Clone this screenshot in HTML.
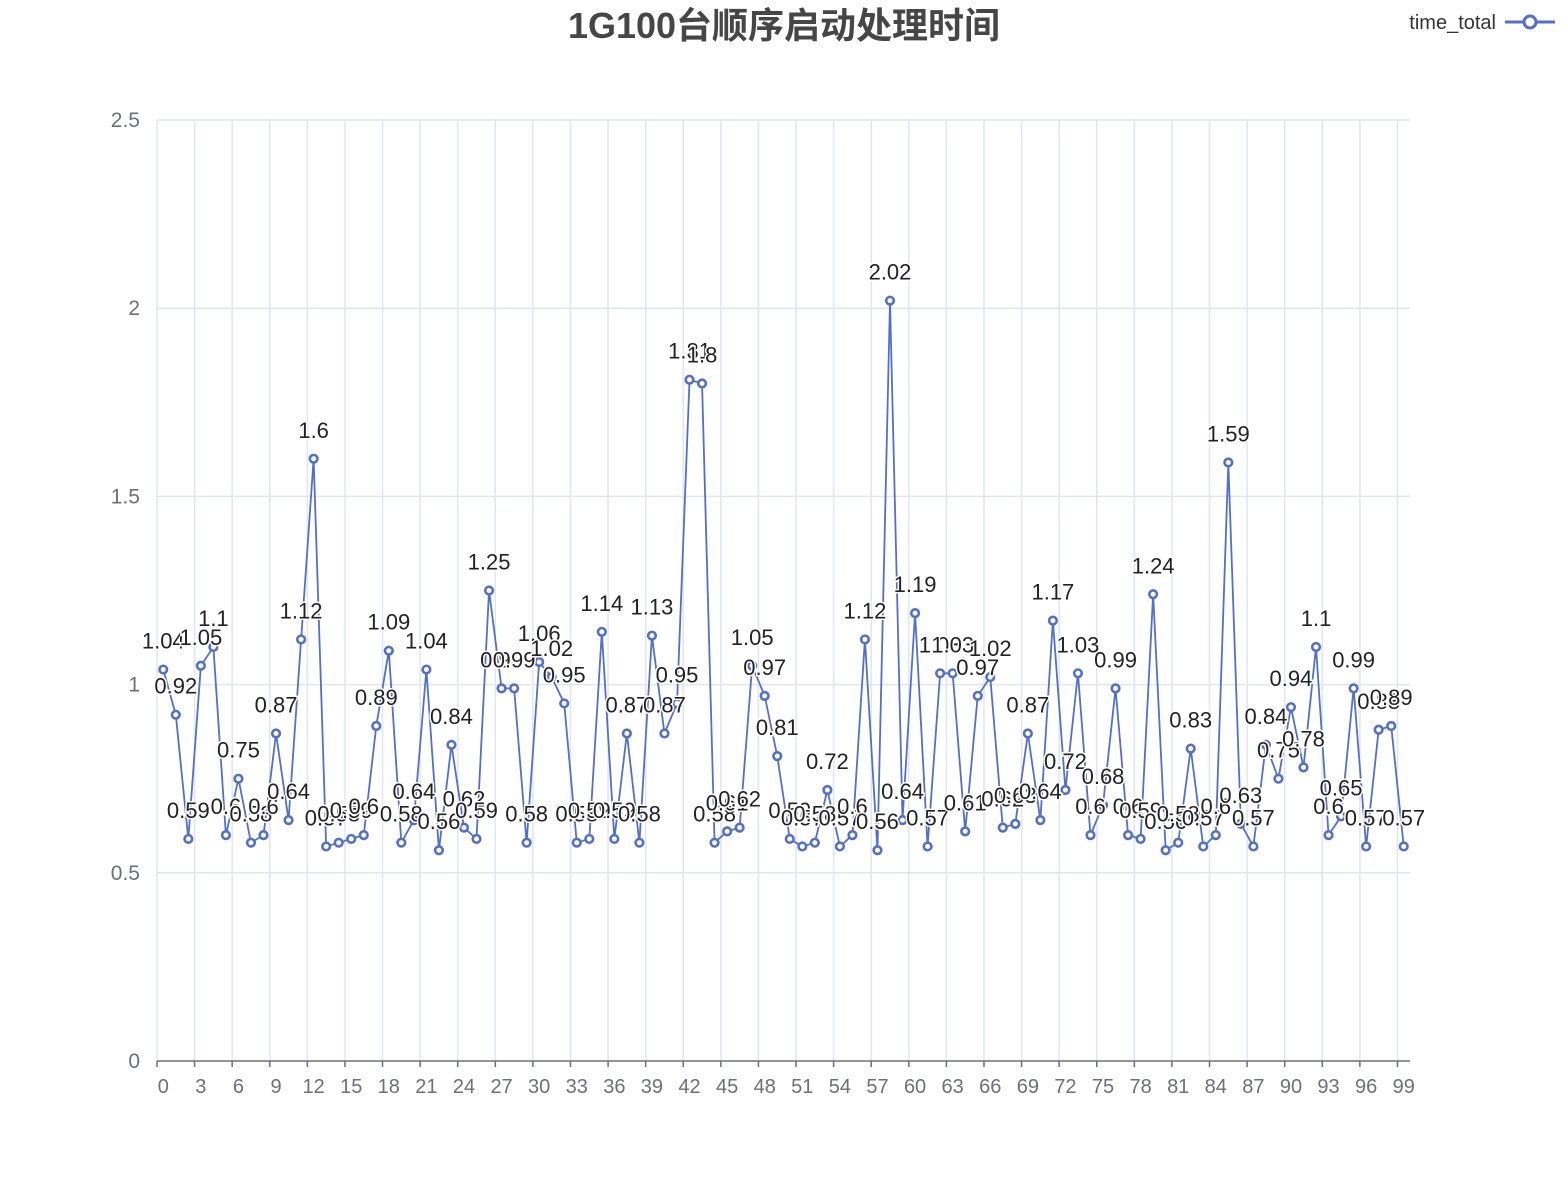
<!DOCTYPE html>
<html><head><meta charset="utf-8">
<style>
html,body{margin:0;padding:0;background:#fff;}
svg{display:block;font-family:"Liberation Sans","Noto Sans CJK SC",sans-serif;}
</style></head>
<body>
<svg id="chart" width="1568" height="1200" viewBox="0 0 1568 1200">
  <text x="784" y="38" text-anchor="middle" font-size="36" font-weight="bold" fill="#464646">1G100台顺序启动处理时间</text>
  <g>
    <text x="1496" y="29" text-anchor="end" font-size="20" fill="#333">time_total</text>
    <line x1="1505" y1="22" x2="1555" y2="22" stroke="#5470c6" stroke-width="3"/>
    <circle cx="1530" cy="22" r="6" fill="#fff" stroke="#5470c6" stroke-width="3"/>
  </g>
  <g id="grid"></g>
  <g id="axes"></g>
  <g id="series"></g>
  <g id="labels"></g>
</svg>
<script>
const categories = Array.from({length:100},(_,i)=>String(i));
const timeTotal = [1.04,0.92,0.59,1.05,1.1,0.6,0.75,0.58,0.6,0.87,
0.64,1.12,1.6,0.57,0.58,0.59,0.6,0.89,1.09,0.58,
0.64,1.04,0.56,0.84,0.62,0.59,1.25,0.99,0.99,0.58,
1.06,1.02,0.95,0.58,0.59,1.14,0.59,0.87,0.58,1.13,
0.87,0.95,1.81,1.8,0.58,0.61,0.62,1.05,0.97,0.81,
0.59,0.57,0.58,0.72,0.57,0.6,1.12,0.56,2.02,0.64,
1.19,0.57,1.03,1.03,0.61,0.97,1.02,0.62,0.63,0.87,
0.64,1.17,0.72,1.03,0.6,0.68,0.99,0.6,0.59,1.24,
0.56,0.58,0.83,0.57,0.6,1.59,0.63,0.57,0.84,0.75,
0.94,0.78,1.1,0.6,0.65,0.99,0.57,0.88,0.89,0.57];
const yTicks = [0,0.5,1,1.5,2,2.5];
const yTickLabels = ["0","0.5","1","1.5","2","2.5"];

const NS="http://www.w3.org/2000/svg";
const X0=157,X1=1410,Y0=1061,Y1=120,YMAX=2.5;
const bw=(X1-X0)/categories.length;
function xScale(i){return X0+bw*(i+0.5);}
function yScale(v){return Y0-(v/YMAX)*(Y0-Y1);}
function mk(tag,attrs,parent){const e=document.createElementNS(NS,tag);for(const k in attrs)e.setAttribute(k,attrs[k]);parent.appendChild(e);return e;}

const grid=document.getElementById('grid'),axes=document.getElementById('axes'),series=document.getElementById('series'),labels=document.getElementById('labels');
yTicks.forEach((t,k)=>{
  const y=yScale(t);
  if(t>0){const l=mk('line',{x1:X0,x2:X1,y1:y,y2:y,stroke:'#e0e6f1','stroke-width':1.5},grid);
  
  }
  const tx=mk('text',{x:X0-17,y:y+7,'text-anchor':'end','font-size':21,fill:'#6e7079'},axes);
  tx.textContent=yTickLabels[k];
  
  
});
for(let i=0;i<=categories.length+1;i+=3){
  const x=Math.min(X0+bw*i,X1);
  const l=mk('line',{x1:x,x2:x,y1:Y1,y2:Y0,stroke:'#e0e6f1','stroke-width':1.5},grid);
  
  
  const tk=mk('line',{x1:x,x2:x,y1:Y0,y2:Y0+6,stroke:'#6e7079','stroke-width':1.5},axes);
  
  
}
const ax=mk('line',{x1:X0,x2:X1,y1:Y0,y2:Y0,stroke:'#6e7079','stroke-width':1.5},axes);


categories.forEach((c,i)=>{
  if(i%3!==0)return;
  const t=mk('text',{x:xScale(i),y:Y0+32,'text-anchor':'middle','font-size':20,fill:'#6e7079'},axes);
  t.textContent=c;
  
  
});
const pts=timeTotal.map((v,i)=>xScale(i).toFixed(2)+','+yScale(v).toFixed(2)).join(' ');
const pl=mk('polyline',{points:pts,fill:'none',stroke:'#5470c6','stroke-width':1.8,'stroke-linejoin':'round'},series);


timeTotal.forEach((v,i)=>{
  const c=mk('circle',{cx:xScale(i),cy:yScale(v),r:3.8,fill:'#fff',stroke:'#5470c6','stroke-width':2.6},series);
  
  
  const t=mk('text',{x:xScale(i),y:yScale(v)-21,'text-anchor':'middle','font-size':22,fill:'#222',stroke:'#fff','stroke-width':3,'paint-order':'stroke'},labels);
  t.textContent=String(v);
  
  
});
</script>
</body></html>
